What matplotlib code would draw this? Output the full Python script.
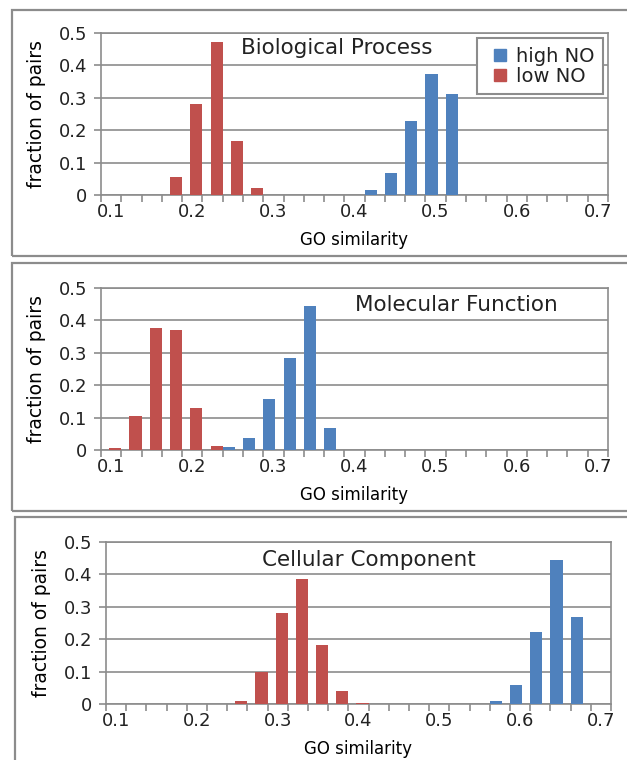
import matplotlib.pyplot as plt
from matplotlib.patches import Rectangle
from matplotlib.lines import Line2D

# GO similarity bins (labels shown every 4th bin)
bin_labels = ['0.1', '0.125', '0.15', '0.175', '0.2', '0.225', '0.25', '0.275', '0.3',
              '0.325', '0.35', '0.375', '0.4', '0.425', '0.45', '0.475', '0.5',
              '0.525', '0.55', '0.575', '0.6', '0.625', '0.65', '0.675', '0.7']
shown_labels = ['0.1', '0.2', '0.3', '0.4', '0.5', '0.6', '0.7']

bio_high = [0, 0, 0, 0, 0, 0, 0, 0, 0, 0, 0, 0, 0, 0.016, 0.067, 0.228, 0.372, 0.312, 0, 0, 0, 0, 0, 0, 0]
bio_low = [0, 0, 0, 0.055, 0.28, 0.472, 0.166, 0.023, 0, 0, 0, 0, 0, 0, 0, 0, 0, 0, 0, 0, 0, 0, 0, 0, 0]
mol_high = [0, 0, 0, 0, 0, 0, 0.009, 0.036, 0.156, 0.285, 0.444, 0.067, 0, 0, 0, 0, 0, 0, 0, 0, 0, 0, 0, 0, 0]
mol_low = [0.005, 0.106, 0.375, 0.371, 0.13, 0.013, 0, 0, 0, 0, 0, 0, 0, 0, 0, 0, 0, 0, 0, 0, 0, 0, 0, 0, 0]
cel_high = [0, 0, 0, 0, 0, 0, 0, 0, 0, 0, 0, 0, 0, 0, 0, 0, 0, 0, 0, 0.009, 0.058, 0.223, 0.443, 0.269, 0]
cel_low = [0, 0, 0, 0, 0, 0, 0.01, 0.10, 0.28, 0.387, 0.181, 0.04, 0.003, 0, 0, 0, 0, 0, 0, 0, 0, 0, 0, 0, 0]

titles = ['Biological Process', 'Molecular Function', 'Cellular Component']
series = [(bio_high, bio_low), (mol_high, mol_low), (cel_high, cel_low)]

blue = '#4f81bd'
red = '#c0504d'
grey = '#8c8c8c'

W, H = 627, 760
plt.rcParams['font.family'] = 'DejaVu Sans'
plt.rcParams['text.color'] = '#222222'
plt.rcParams['xtick.labelcolor'] = '#222222'
plt.rcParams['ytick.labelcolor'] = '#222222'
fig = plt.figure(figsize=(W / 100, H / 100), dpi=100)

# plot areas in pixels: left, right, top, bottom
boxes = [(101, 608, 33, 195), (101, 608, 288, 450), (106, 611, 542, 704)]
# chart frames in pixels: left, top, bottom
frames = [(12, 10, 256), (12, 263, 511), (15, 517, 770)]
title_pos = [(0.465, 0.905), (0.70, 0.895), (0.52, 0.89)]

for fr in frames:
    l, t, b = fr
    fig.patches.append(Rectangle((l / W, 1 - b / H), (640 - l) / W, (b - t) / H,
                                 transform=fig.transFigure, fill=False,
                                 edgecolor=grey, linewidth=1.6))

for k in range(3):
    l, r, t, b = boxes[k]
    ax = fig.add_axes([l / W, 1 - b / H, (r - l) / W, (b - t) / H])
    high, low = series[k]
    x = list(range(len(bin_labels)))
    ax.bar([i - 0.2 for i in x], high, 0.6, color=blue, zorder=3)
    ax.bar([i + 0.2 for i in x], low, 0.6, color=red, zorder=3)

    ax.set_xlim(-0.5, len(bin_labels) - 0.5)
    ax.set_ylim(0, 0.5)
    ax.set_xticks([i for i in x if bin_labels[i] in shown_labels])
    ax.set_xticklabels(shown_labels)
    ax.set_xticks([i - 0.5 for i in range(len(bin_labels) + 1)], minor=True)
    ax.tick_params(axis='x', which='major', length=0, labelsize=13, pad=6)
    ax.tick_params(axis='x', which='minor', length=5, width=1.2, color=grey, direction='out')
    ax.set_yticks([0, 0.1, 0.2, 0.3, 0.4, 0.5])
    ax.set_yticklabels(['0', '0.1', '0.2', '0.3', '0.4', '0.5'])
    ax.tick_params(axis='y', length=5, width=1.2, color=grey, labelsize=13, pad=5)
    ax.yaxis.grid(True, color=grey, linewidth=1.2, zorder=0)
    for s in ax.spines.values():
        s.set_color(grey)
        s.set_linewidth(1.2)

    ax.set_xlabel('GO similarity', fontsize=12, labelpad=7)
    ax.set_ylabel('fraction of pairs', fontsize=13.5, labelpad=9)
    ax.text(title_pos[k][0], title_pos[k][1], titles[k], transform=ax.transAxes,
            ha='center', va='center', fontsize=15.5, zorder=5)

    if k == 0:
        handles = [Line2D([], [], linestyle='none', marker='s', markersize=8,
                          color=blue, label='high NO'),
                   Line2D([], [], linestyle='none', marker='s', markersize=8,
                          color=red, label='low NO')]
        leg = ax.legend(handles=handles, loc='upper right', bbox_to_anchor=(0.99, 0.97),
                        fontsize=14, handlelength=1.5, handletextpad=0.05,
                        labelspacing=0.05, borderpad=0.45, fancybox=False,
                        framealpha=1, borderaxespad=0)
        leg.get_frame().set_edgecolor(grey)
        leg.get_frame().set_linewidth(1.5)

fig.savefig('out.png', dpi=100)
